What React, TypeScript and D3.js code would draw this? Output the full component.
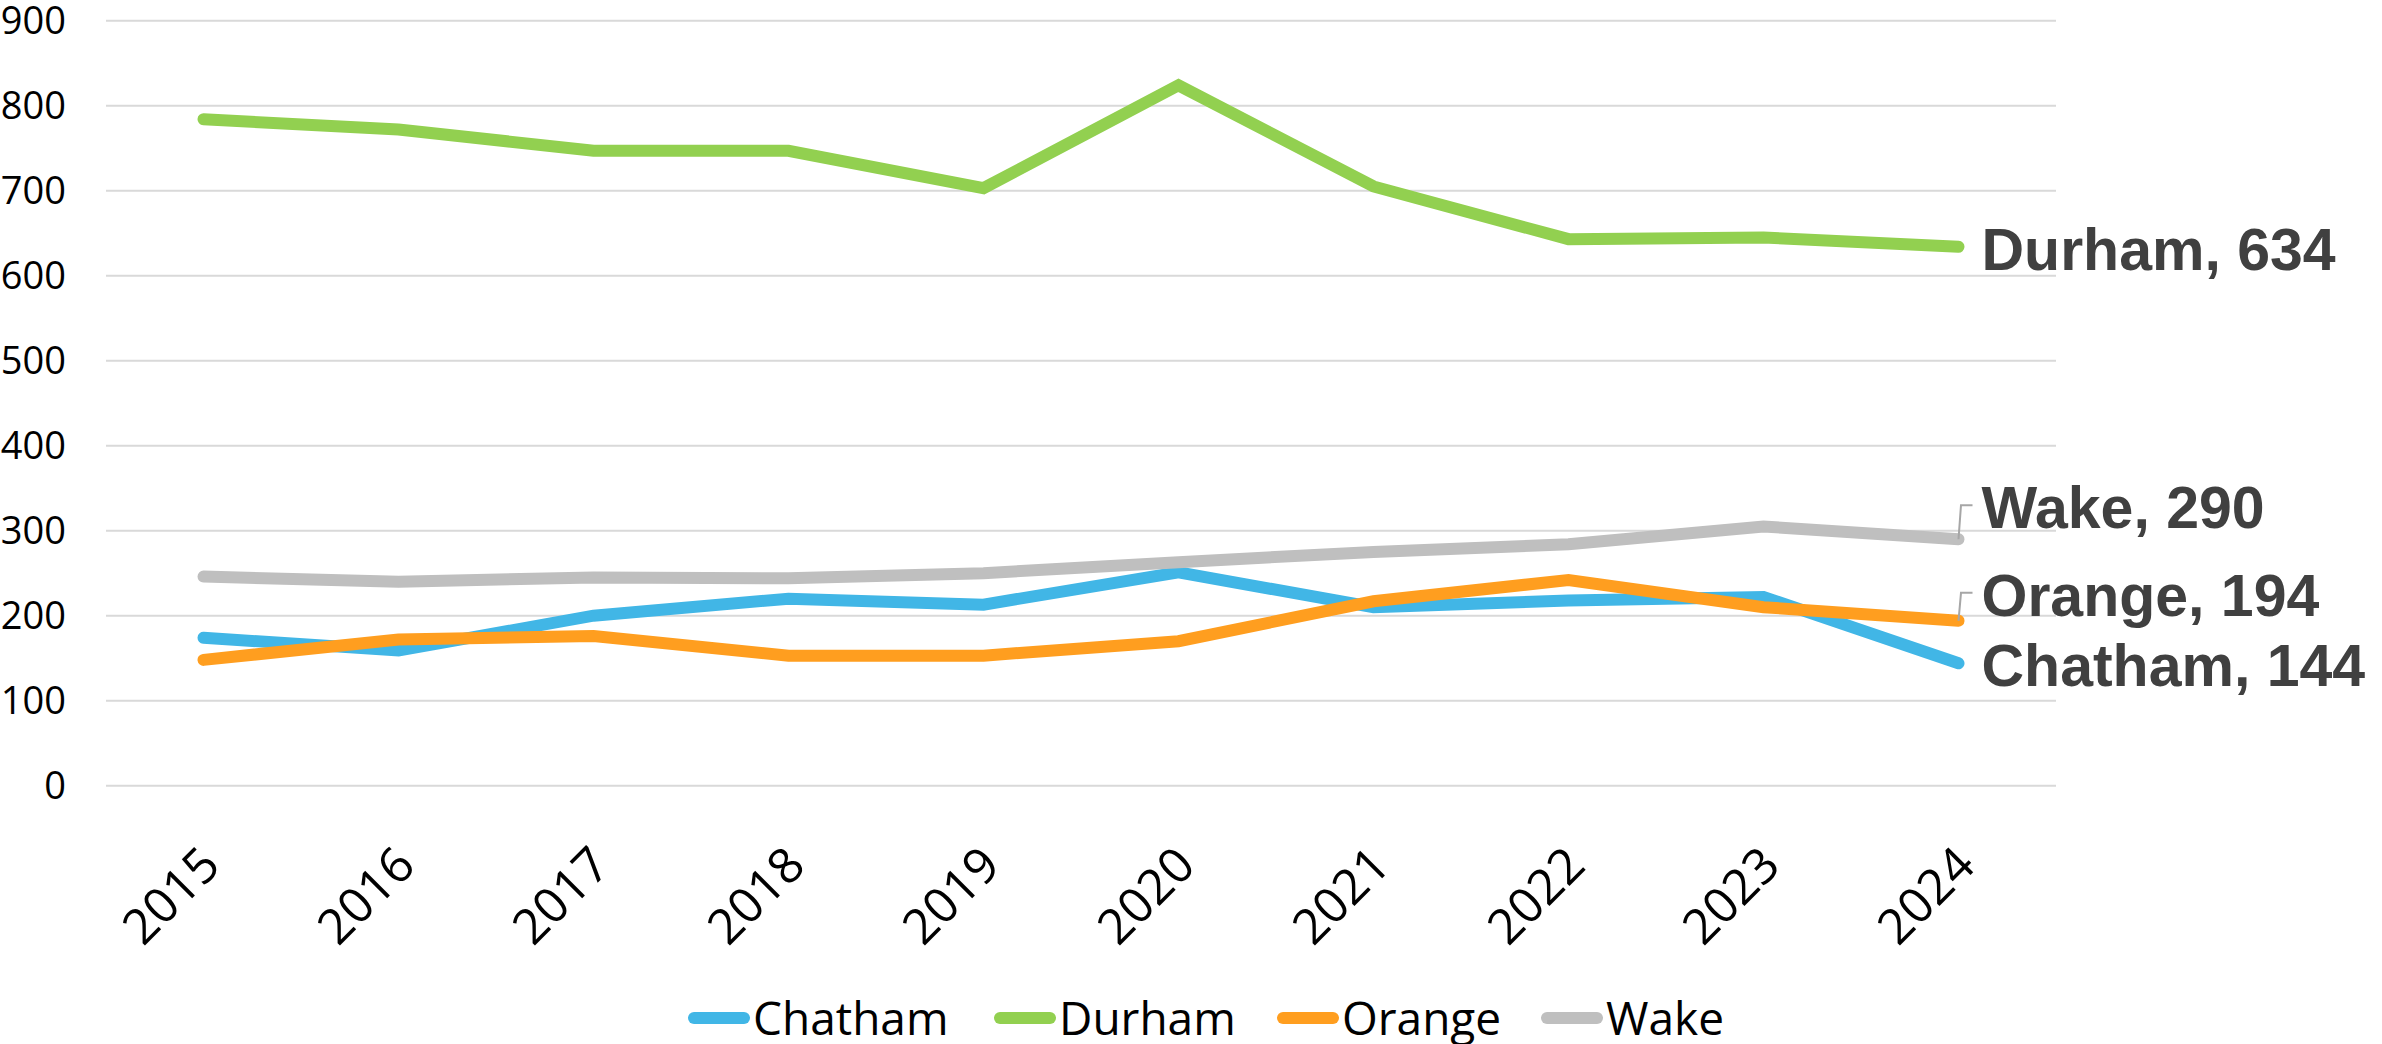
import React from "react";
import * as d3 from "d3";

const years = ["2015", "2016", "2017", "2018", "2019", "2020", "2021", "2022", "2023", "2024"];
const seriesNames = ["Chatham", "Durham", "Orange", "Wake"];
const chatham = [174, 159, 200, 220, 213, 251, 210, 218, 222, 144];
const durham = [784, 772, 747, 747, 703, 824, 705, 643, 645, 634];
const orange = [148, 172, 176, 153, 153, 170, 217, 242, 210, 194];
const wake = [246, 240, 245, 244, 250, 263, 275, 284, 305, 290];
const yTicks = [0, 100, 200, 300, 400, 500, 600, 700, 800, 900];
const seriesColors = ["#41B6E6", "#92D050", "#FF9E1F", "#BFBFBF"];

const W = 2382;
const H = 1044;

export default function App() {
  const allValues = [chatham, durham, orange, wake];
  const x = d3.scalePoint<string>().domain(years).range([106, 2056]).padding(0.5);
  const y = d3.scaleLinear().domain([0, 900]).range([785.7, 20.7]);
  const line = d3
    .line<number>()
    .x((_, i) => x(years[i]) as number)
    .y((d) => y(d));

  const labelLayout = [
    { dy: 23, leader: false },
    { dy: 23, leader: false },
    { dy: -5, leader: true },
    { dy: -11, leader: true },
  ];

  const legendX = [688, 994, 1277, 1541];
  const last = years.length - 1;
  const xEnd = x(years[last]) as number;

  return (
    <svg
      width={W}
      height={H}
      style={{ position: "absolute", left: 0, top: 0, background: "#fff" }}
    >
      {yTicks.map((t) => (
        <line
          key={"g" + t}
          x1={106}
          x2={2056}
          y1={y(t)}
          y2={y(t)}
          stroke="#D9D9D9"
          strokeWidth={2}
        />
      ))}
      {yTicks.map((t) => (
        <text
          key={"yl" + t}
          x={66}
          y={y(t)}
          dy="0.36em"
          textAnchor="end"
          fontFamily="'Open Sans', sans-serif"
          fontSize={38}
          fill="#000"
        >
          {t}
        </text>
      ))}
      {years.map((yr) => (
        <text
          key={"xl" + yr}
          transform={`translate(${(x(yr) as number) + 19},868) rotate(-45)`}
          textAnchor="end"
          fontFamily="'Open Sans', sans-serif"
          fontSize={49}
          fill="#000"
        >
          {yr}
        </text>
      ))}
      {allValues.map((vals, si) => (
        <path
          key={"l" + si}
          d={line(vals) as string}
          fill="none"
          stroke={seriesColors[si]}
          strokeWidth={12}
          strokeLinecap="round"
          strokeLinejoin="miter"
        />
      ))}
      {allValues.map((vals, si) => {
        const yEnd = y(vals[last]);
        const base = yEnd + labelLayout[si].dy;
        return (
          <g key={"el" + si}>
            {labelLayout[si].leader && (
              <polyline
                points={`${xEnd},${yEnd} ${xEnd + 2.5},${base - 23} ${xEnd + 14},${base - 23}`}
                fill="none"
                stroke="#A6A6A6"
                strokeWidth={2}
              />
            )}
            <text
              x={xEnd + 23}
              y={base}
              fontFamily="'Liberation Sans', Arial, sans-serif"
              fontWeight="bold"
              fontSize={59}
              fill="#404040"
            >
              {`${seriesNames[si]}, ${vals[last]}`}
            </text>
          </g>
        );
      })}
      {seriesNames.map((name, si) => (
        <g key={"lg" + si}>
          <line
            x1={legendX[si] + 6}
            x2={legendX[si] + 56}
            y1={1018}
            y2={1018}
            stroke={seriesColors[si]}
            strokeWidth={12}
            strokeLinecap="round"
          />
          <text
            x={legendX[si] + 65}
            y={1035}
            fontFamily="'Open Sans', sans-serif"
            fontSize={46}
            fill="#000"
          >
            {name}
          </text>
        </g>
      ))}
    </svg>
  );
}
